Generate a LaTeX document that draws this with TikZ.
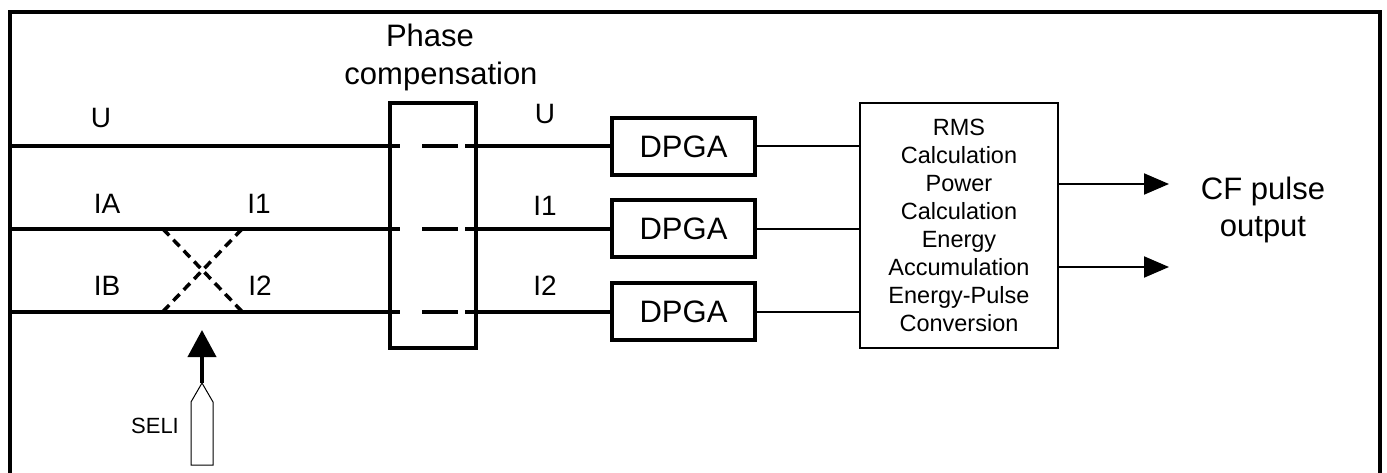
\documentclass[tikz,border=0pt]{standalone}
\usepackage{fontspec}
\setmainfont{Liberation Sans}
\usetikzlibrary{arrows.meta}
\begin{document}
\begin{tikzpicture}[x=1pt,y=-1pt,
  sig/.style={line width=4pt, dash pattern=on 390pt off 22pt on 36pt off 7pt on 300pt},
  thinline/.style={line width=2pt},
  crossdash/.style={line width=3.5pt, dash pattern=on 9pt off 6pt},
  thickbox/.style={draw, line width=4pt, inner sep=0pt},
  dpgabox/.style={thickbox, minimum width=143pt, minimum height=57pt, font=\fontsize{31}{34}\selectfont},
  lbl/.style={font=\fontsize{28}{32}\selectfont, inner sep=0pt},
  big/.style={font=\fontsize{31}{37}\selectfont, inner sep=0pt, align=center}]
\useasboundingbox (0,0) rectangle (1387,473);
% frame (open at bottom)
\draw[line width=4pt] (10,480) -- (10,12) -- (1380,12) -- (1380,480);

% boxes
\node[thickbox, minimum width=86pt, minimum height=245pt] (phase) at (433,225.5) {};
\node[dpgabox] (dpga1) at (683.5,146.5) {DPGA};
\node[dpgabox] (dpga2) at (683.5,229) {DPGA};
\node[dpgabox] (dpga3) at (683.5,311.5) {DPGA};
\node[draw, line width=2pt, minimum width=198pt, minimum height=245pt, inner sep=0pt, align=center,
      font=\fontsize{23.5}{28}\selectfont] (calc) at (959,225.5)
      {RMS\\Calculation\\Power\\Calculation\\Energy\\Accumulation\\Energy-Pulse\\Conversion};

% input coordinates
\coordinate (uL) at (10,146.5);
\coordinate (aL) at (10,229);
\coordinate (bL) at (10,311.5);

% signal lines
\draw[sig] (uL) -- (dpga1.west);
\draw[sig] (aL) -- (dpga2.west);
\draw[sig] (bL) -- (dpga3.west);

% crossing
\coordinate (x1) at (163,229);
\coordinate (x2) at (242,311.5);
\coordinate (x3) at (163,311.5);
\coordinate (x4) at (242,229);
\draw[crossdash] (x1) -- (x2);
\draw[crossdash] (x3) -- (x4);

% DPGA to calc
\draw[thinline] (dpga1.east) -- (calc.west |- dpga1.east);
\draw[thinline] (dpga2.east) -- (calc.west |- dpga2.east);
\draw[thinline] (dpga3.east) -- (calc.west |- dpga3.east);

% outputs
\coordinate (o1) at (1169,184);
\coordinate (o2) at (1169,267);
\draw[thinline, -{Triangle[length=25pt,width=21pt]}] (calc.east |- o1) -- (o1);
\draw[thinline, -{Triangle[length=25pt,width=21pt]}] (calc.east |- o2) -- (o2);

% SELI
\coordinate (selitop) at (202,383);
\coordinate (selitip) at (202,330);
\draw[line width=1pt] (191,465) -- (191,402) -- (selitop) -- (213,402) -- (213,465) -- cycle;
\draw[line width=4pt, -{Triangle[length=27pt,width=28pt]}] (selitop) -- (selitip);
\node[font=\fontsize{22}{26}\selectfont, inner sep=0pt] (seli) at (155,426) {SELI};

% labels
\node[lbl] (lU) at (101,118) {U};
\node[lbl] (lIA) at (107,204) {IA};
\node[lbl] (lIB) at (107,286) {IB};
\node[lbl] (lI1a) at (259,204) {I1};
\node[lbl] (lI2a) at (260,286) {I2};
\node[lbl] (rU) at (545,114) {U};
\node[lbl] (rI1) at (545,206) {I1};
\node[lbl] (rI2) at (545,286) {I2};

\node[big] (ph1) at (430,35) {Phase};
\node[big] (ph2) at (441,76) {compensation};
\node[big] (cf) at (1263,210) {CF pulse\\output};
\end{tikzpicture}
\end{document}
